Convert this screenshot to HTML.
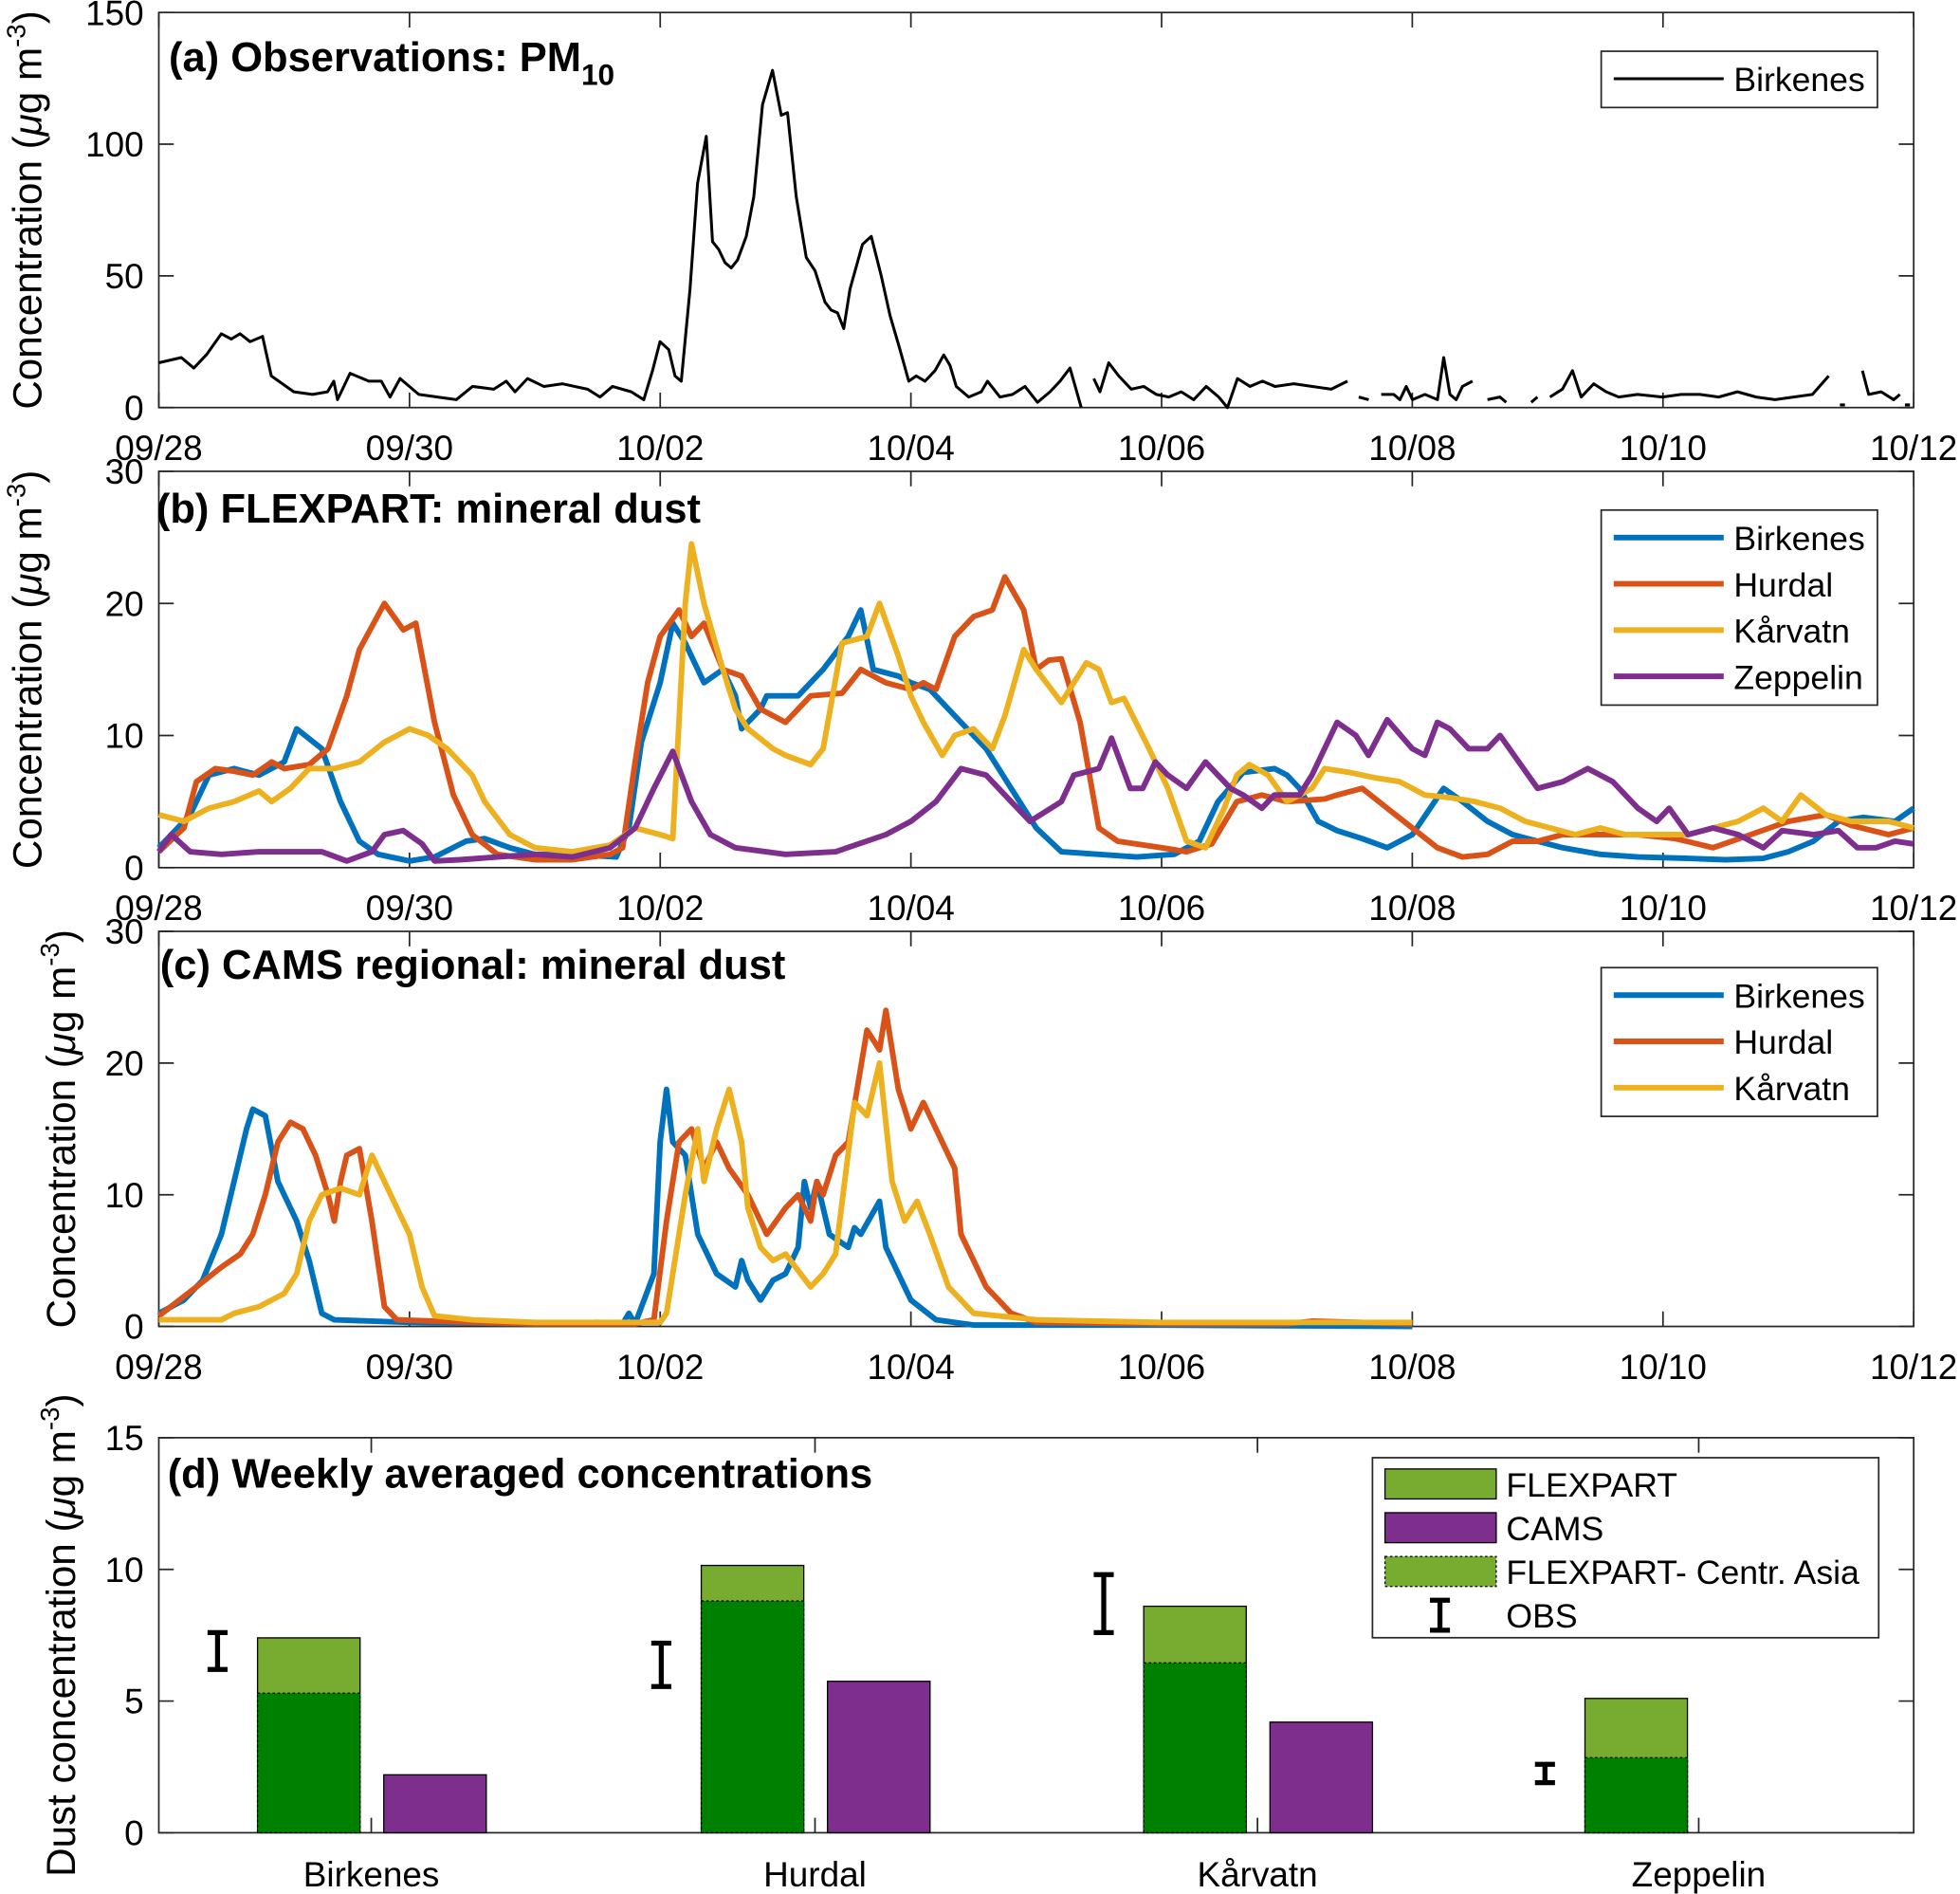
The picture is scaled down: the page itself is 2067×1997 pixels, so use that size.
<!DOCTYPE html>
<html><head><meta charset="utf-8">
<style>html,body{margin:0;padding:0;background:#fff}svg{display:block}text{font-family:"Liberation Sans",sans-serif;fill:#000}</style>
</head><body>
<svg id="chart" width="2067" height="1997" viewBox="0 0 1568 1515" xmlns="http://www.w3.org/2000/svg"></svg>
<script>
// ---------- data ----------
const dayTicks=['09/28','09/30','10/02','10/04','10/06','10/08','10/10','10/12'];
// PM10 observations: pixel-day positions and values with null gaps
const pmPx=[127,145,155,165,177,185,192,200,210,217,235,250,262,267,270,280,295,305,312,320,335,350,365,378,395,405,412,422,435,450,470,480,490,505,515,522,528,535,540,545,552,558,565,570,575,580,585,590,597,603,610,618,625,630,637,645,652,660,665,670,675,680,690,697,705,712,720,727,733,740,748,755,760,765,775,785,790,800,810,820,830,840,848,856,865,null,875,880,887,895,905,915,925,935,945,955,965,975,982,990,1000,1010,1020,1035,1050,1065,1078,null,1087,1095,null,1105,1115,1120,1125,1130,1140,1150,1155,1160,1165,1170,1178,null,1190,1200,1205,null,1225,1230,null,1240,1250,1258,1265,1275,1285,1295,1310,1330,1345,1360,1375,1390,1405,1420,1435,1450,1463,null,1472,1476,null,1490,1495,1505,1515,1520,null,1524,1528];
const pmVals=[17,19,15,20,28,26,28,25,27,12,6,5,6,10,3,13,10,10,4,11,5,4,3,8,7,10,6,11,8,9,7,4,8,6,3,14,25,22,12,10,45,85,103,63,60,55,53,56,65,80,115,128,111,112,80,57,52,40,37,36,30,45,62,65,50,35,22,10,12,10,14,20,16,8,4,6,10,4,5,8,2,6,10,15,0,null,11,6,17,12,7,8,5,4,6,3,8,4,0,11,8,10,8,9,8,7,10,null,4,3,null,5,5,3,8,3,5,3,19,5,3,8,10,null,3,4,2,null,2,4,null,4,7,14,4,9,6,4,5,4,5,5,4,6,4,3,4,5,12,null,1,1,null,14,5,6,3,5,null,1,1];
const fbBirT=[0,.25,.4,.6,.8,1,1.1,1.3,1.45,1.6,1.75,2,2.2,2.45,2.6,2.8,3,3.3,3.65,3.75,3.85,4,4.1,4.2,4.35,4.5,4.6,4.65,4.8,4.85,5.1,5.3,5.5,5.6,5.7,5.9,6,6.15,6.4,6.6,6.8,7,7.2,7.5,7.8,8.1,8.3,8.45,8.65,8.9,9,9.1,9.25,9.4,9.6,9.8,10,10.25,10.4,10.6,10.8,11,11.2,11.5,11.8,12.2,12.5,12.8,13,13.2,13.4,13.6,13.85,14];
const fbBirV=[1.5,4,7,7.5,7,8,10.5,9,5,2,1,.5,.8,2,2.2,1.5,1,1,.8,3,9.5,14,18.5,17,14,15,13,10.5,12,13,13,15,17.5,19.5,15,14.5,14,13.5,11,9,6,3,1.2,1,.8,1,2,5,7.2,7.5,7,6,3.5,2.8,2.2,1.5,2.5,6,5,3.5,2.5,2,1.5,1,.8,.7,.6,.7,1.2,2,3.5,3.8,3.5,4.5];
const fbHurT=[0,.2,.3,.45,.6,.75,.9,1,1.2,1.35,1.5,1.6,1.8,1.95,2.05,2.2,2.35,2.5,2.7,3,3.3,3.6,3.7,3.8,3.9,4,4.15,4.25,4.35,4.5,4.65,4.8,5,5.2,5.45,5.6,5.8,6,6.1,6.2,6.35,6.5,6.65,6.75,6.9,7,7.1,7.2,7.35,7.5,7.65,8,8.2,8.4,8.6,8.8,9,9.3,9.4,9.6,9.8,10,10.2,10.4,10.6,10.8,11,11.2,11.5,11.8,12.1,12.4,12.7,13,13.3,13.5,13.8,14];
const fbHurV=[1.2,3,6.5,7.5,7.3,7,8,7.5,7.8,9,13,16.5,20,18,18.5,11,5.5,2.5,1,.6,.6,1,1.5,8,14,17.5,19.5,17.5,18.5,15,14.5,12,11,13,13.2,15,14,13.5,14,13.5,17.5,19,19.5,22,19.5,15,15.7,15.8,11,3,2,1.5,1.2,1.8,5,5.5,5,5.2,5.5,6,4.5,3,1.5,.8,1,2,2,2.5,2.5,2.5,2.2,1.5,2.5,3.5,4,3.2,2.5,3];
const fbKarT=[0,.2,.4,.6,.8,.9,1.05,1.2,1.4,1.6,1.8,2,2.15,2.3,2.5,2.6,2.8,3,3.3,3.6,3.8,4,4.1,4.2,4.25,4.35,4.5,4.6,4.7,4.9,5,5.2,5.3,5.45,5.65,5.75,5.9,6,6.1,6.25,6.35,6.5,6.65,6.75,6.9,7,7.2,7.4,7.5,7.6,7.7,7.9,8.05,8.2,8.35,8.5,8.6,8.7,8.85,9,9.2,9.3,9.5,9.7,9.9,10.1,10.3,10.5,10.7,10.9,11.1,11.3,11.5,11.7,12,12.2,12.4,12.6,12.8,12.95,13.1,13.3,13.5,13.8,14];
const fbKarV=[4,3.5,4.5,5,5.8,5,6,7.5,7.5,8,9.5,10.5,10,9,7,5,2.5,1.5,1.2,1.7,3,2.5,2.2,20,24.5,20,15,12,10.5,9,8.5,7.8,9,17,17.5,20,16,13,11,8.5,10,10.5,9,11.5,16.5,15,12.5,15.5,15,12.5,12.8,9,6,2,1.5,4.5,7,7.8,7,5,6,7.5,7.2,6.8,6.5,5.5,5.3,5,4.5,3.5,3,2.5,3,2.5,2.5,2.5,3,3.5,4.5,3.5,5.5,4,3.5,3.5,3];
const fbZepT=[0,.1,.25,.5,.8,1,1.3,1.5,1.7,1.8,1.95,2.1,2.2,2.4,2.7,3,3.3,3.6,3.8,3.95,4.1,4.25,4.4,4.6,5,5.4,5.8,6,6.2,6.4,6.6,6.8,6.95,7.2,7.3,7.5,7.6,7.75,7.85,7.95,8.05,8.2,8.35,8.55,8.65,8.8,8.9,9.1,9.2,9.4,9.55,9.65,9.8,10,10.1,10.2,10.3,10.45,10.6,10.7,10.85,11,11.2,11.4,11.6,11.8,11.95,12.05,12.2,12.4,12.6,12.8,12.95,13.2,13.4,13.55,13.7,13.85,14];
const fbZepV=[1.2,2.5,1.2,1,1.2,1.2,1.2,.5,1.2,2.5,2.8,1.8,.5,.6,.8,1,.8,1.5,3,6,8.8,5,2.5,1.5,1,1.2,2.5,3.5,5,7.5,7,5,3.5,5,7,7.5,9.8,6,6,8,7,6,8,6,5.5,4.5,5.5,5.5,7,11,10,8.5,11.2,9,8.5,11,10.5,9,9,10,8,6,6.5,7.5,6.5,4.5,3.5,4.5,2.5,3,2.5,1.5,2.8,2.5,2.8,1.5,1.5,2,1.8];
const fcBirT=[0,.2,.35,.5,.6,.7,.75,.85,.95,1,1.1,1.2,1.3,1.4,2,3,3.5,3.7,3.75,3.8,3.95,4,4.05,4.1,4.2,4.3,4.45,4.6,4.65,4.7,4.8,4.9,5,5.1,5.15,5.2,5.25,5.35,5.5,5.55,5.6,5.75,5.8,5.9,6,6.2,6.5,8,10];
const fcBirV=[1,2,3.5,7,11,15,16.5,16,11,10,8,5,1,.5,.3,.2,.3,.2,1,.2,4,14,18,14,13,7,4,3,5,3.5,2,3.5,4,6,11,9,11,7,6,7.5,7,9.5,6,4,2,.5,.1,.1,0];
const fcHurT=[0,.3,.5,.65,.75,.85,.95,1.05,1.15,1.25,1.35,1.4,1.45,1.5,1.6,1.7,1.8,1.9,2.5,3,3.8,3.95,4.05,4.15,4.25,4.35,4.45,4.55,4.7,4.85,5,5.1,5.2,5.25,5.3,5.4,5.5,5.65,5.75,5.8,5.9,6,6.1,6.2,6.35,6.4,6.5,6.6,6.8,7,8,9,9.2,10];
const fcHurV=[.8,3,4.5,5.5,7,10,14,15.5,15,13,10,8,11,13,13.5,8,1.5,.5,.3,.2,.2,.5,8,14,15,12,14,12,10,7,9,10,8,11,10,13,14,22.5,21,24,18,15,17,15,12,7,5,3,1,.3,.2,.2,.4,.2];
const fcKarT=[0,.5,.6,.8,1,1.1,1.2,1.3,1.45,1.6,1.7,1.8,1.9,2,2.1,2.2,2.5,3,4,4.05,4.1,4.2,4.3,4.35,4.45,4.55,4.65,4.7,4.8,4.9,5,5.2,5.3,5.4,5.55,5.65,5.75,5.85,5.95,6.05,6.15,6.3,6.5,7,7.5,8,10];
const fcKarV=[.5,.5,1,1.5,2.5,4,8,10,10.5,10,13,11,9,7,3,.8,.5,.3,.3,1,4,10,15,11,15,18,14,9,6,5,5.5,3,4,5.5,17,16,20,11,8,9.5,7,3,1,.5,.4,.3,.3];
const stations=['Birkenes','Hurdal','Kårvatn','Zeppelin'];
const flexTotal=[7.4,10.15,8.6,5.1];
const flexAsia=[5.3,8.8,6.45,2.85];
const camsVals=[2.2,5.75,4.2,0];
const obsLow=[6.2,5.55,7.6,1.9];
const obsHigh=[7.6,7.2,9.8,2.6];

// ---------- drawing ----------
const NS='http://www.w3.org/2000/svg';
const svg=document.getElementById('chart');
function mk(tag,attrs,parent,txt){const e=document.createElementNS(NS,tag);for(const k in attrs)e.setAttribute(k,attrs[k]);if(txt!==undefined)e.textContent=txt;(parent||svg).appendChild(e);return e;}
const X0=127,X1=1531;
const xs=d=>X0+(X1-X0)*d/14;
const COL={b:'#0072BD',o:'#D95319',y:'#EDB120',p:'#7E2F8E'};
const TF=28, LF=27, HF=33, AF=32;

function axes(name,top,bot,ymax,ystep,ylabel,labelX,xlabels){
  const g=mk('g',{});
  
  
  const ys=v=>bot-(bot-top)*v/ymax;
  mk('rect',{x:X0,y:top,width:X1-X0,height:bot-top,fill:'#fff',stroke:'#262626','stroke-width':1.3},g);
  for(let v=0;v<=ymax+1e-9;v+=ystep){
    const y=ys(v);
    mk('line',{x1:X0,x2:X0+12,y1:y,y2:y,stroke:'#262626','stroke-width':1.3},g);
    mk('line',{x1:X1,x2:X1-12,y1:y,y2:y,stroke:'#262626','stroke-width':1.3},g);
    const t=mk('text',{x:X0-12,y:y+10,'text-anchor':'end','font-size':TF},g,String(v));
    
    
  }
  if(xlabels){
    dayTicks.forEach((lab,i)=>{const x=xs(i*2);
      mk('line',{x1:x,x2:x,y1:bot,y2:bot-12,stroke:'#262626','stroke-width':1.3},g);
      mk('line',{x1:x,x2:x,y1:top,y2:top+12,stroke:'#262626','stroke-width':1.3},g);
      const t=mk('text',{x:x,y:bot+42,'text-anchor':'middle','font-size':TF},g,lab);
      
      
    });
  }
  const yl=mk('text',{transform:`translate(${labelX},${(top+bot)/2}) rotate(-90)`,'text-anchor':'middle','font-size':AF},g);
  
  
  yl.innerHTML=ylabel;
  return {g,ys};
}
const concLab='Concentration (<tspan font-style="italic">μ</tspan>g m<tspan dy="-13" font-size="21">-3</tspan><tspan dy="13">)</tspan>';
const dustLab='Dust concentration (<tspan font-style="italic">μ</tspan>g m<tspan dy="-13" font-size="21">-3</tspan><tspan dy="13">)</tspan>';

function line(g,ys,T,V,color,w,name){
  let d='',pen=false;
  for(let i=0;i<T.length;i++){
    if(T[i]===null||V[i]===null){pen=false;continue;}
    d+=(pen?'L':'M')+xs(T[i]).toFixed(1)+','+ys(V[i]).toFixed(1);pen=true;
  }
  const p=mk('path',{d,fill:'none',stroke:color,'stroke-width':w,'stroke-linejoin':'round'},g);
  
  
}
function legend(g,x,y,w,items,lw){
  const h=items.length*37+8;
  const lg=mk('g',{},g);
  
  
  mk('rect',{x,y,width:w,height:h,fill:'#fff',stroke:'#262626','stroke-width':1.3},lg);
  items.forEach((it,i)=>{const cy=y+22+i*37;
    mk('line',{x1:x+10,x2:x+98,y1:cy,y2:cy,stroke:it[1],'stroke-width':lw},lg);
    const t=mk('text',{x:x+106,y:cy+10,'font-size':LF},lg,it[0]);
    
    
  });
}

// Panel a
{const pmT=pmPx.map(p=>p===null?null:(p-X0)/(X1-X0)*14);
 const {g,ys}=axes('panel-a-observations',10,326,150,50,concLab,33,true);
 line(g,ys,pmT,pmVals,'#000',2.3,'pm10-birkenes-line');
 legend(g,1281,41,221,[['Birkenes','#000']],2.3);
 const t=mk('text',{x:135,y:57,'font-size':HF,'font-weight':'bold'},g);
 
 t.innerHTML='(a) Observations: PM<tspan dy="11" font-size="24">10</tspan>';}
// Panel b
{const {g,ys}=axes('panel-b-flexpart',377,694,30,10,concLab,33,true);
 line(g,ys,fbBirT,fbBirV,COL.b,4.5,'flexpart-birkenes-line');
 line(g,ys,fbHurT,fbHurV,COL.o,4.5,'flexpart-hurdal-line');
 line(g,ys,fbKarT,fbKarV,COL.y,4.5,'flexpart-karvatn-line');
 line(g,ys,fbZepT,fbZepV,COL.p,4.5,'flexpart-zeppelin-line');
 legend(g,1281,408,221,[['Birkenes',COL.b],['Hurdal',COL.o],['Kårvatn',COL.y],['Zeppelin',COL.p]],4.5);
 const t=mk('text',{x:125,y:418,'font-size':HF,'font-weight':'bold'},g,'(b) FLEXPART: mineral dust');
 }
// Panel c
{const {g,ys}=axes('panel-c-cams',745,1061,30,10,concLab,60,true);
 line(g,ys,fcBirT,fcBirV,COL.b,4.5,'cams-birkenes-line');
 line(g,ys,fcHurT,fcHurV,COL.o,4.5,'cams-hurdal-line');
 line(g,ys,fcKarT,fcKarV,COL.y,4.5,'cams-karvatn-line');
 legend(g,1281,774,221,[['Birkenes',COL.b],['Hurdal',COL.o],['Kårvatn',COL.y]],4.5);
 const t=mk('text',{x:128,y:783,'font-size':HF,'font-weight':'bold'},g,'(c) CAMS regional: mineral dust');
 }
// Panel d
{const top=1150,bot=1466;
 const {g,ys}=axes('panel-d-weekly',top,bot,15,5,dustLab,60,false);
 const cx=[297,652,1006,1359];
 stations.forEach((s,i)=>{
   const c=cx[i];
   mk('line',{x1:c,x2:c,y1:bot,y2:bot-12,stroke:'#262626','stroke-width':1.3},g);
   mk('line',{x1:c,x2:c,y1:top,y2:top+12,stroke:'#262626','stroke-width':1.3},g);
   const t=mk('text',{x:c,y:bot+43,'text-anchor':'middle','font-size':TF},g,s);
   
   const fx=c-91;
   const b1=mk('rect',{x:fx,y:ys(flexTotal[i]),width:82,height:ys(0)-ys(flexTotal[i]),fill:'#77AC30',stroke:'#000','stroke-width':1},g);
   
   const b2=mk('rect',{x:fx,y:ys(flexAsia[i]),width:82,height:ys(0)-ys(flexAsia[i]),fill:'#008000',stroke:'#000','stroke-width':1,'stroke-dasharray':'2,2'},g);
   
   if(camsVals[i]>0){const b3=mk('rect',{x:c+10,y:ys(camsVals[i]),width:82,height:ys(0)-ys(camsVals[i]),fill:'#7E2F8E',stroke:'#000','stroke-width':1},g);
   }
   const ox=c-123;
   const eb=mk('path',{d:`M${ox-8},${ys(obsHigh[i])}H${ox+8}M${ox},${ys(obsHigh[i])}V${ys(obsLow[i])}M${ox-8},${ys(obsLow[i])}H${ox+8}`,stroke:'#000','stroke-width':4,fill:'none'},g);
   
 });
 const lg=mk('g',{},g);
 
 mk('rect',{x:1098,y:1166,width:405,height:144,fill:'#fff',stroke:'#262626','stroke-width':1.3},lg);
 const items=[['FLEXPART','#77AC30'],['CAMS','#7E2F8E'],['FLEXPART- Centr. Asia','#77AC30'],['OBS',null]];
 items.forEach((it,i)=>{const cy=1187+i*35;
   if(it[1]) mk('rect',{x:1108,y:cy-12,width:89,height:24,fill:it[1],stroke:'#000','stroke-width':1,'stroke-dasharray':i==2?'2,2':'none'},lg);
   else mk('path',{d:`M1144,${cy-12}H1160M1152,${cy-12}V${cy+12}M1144,${cy+12}H1160`,stroke:'#000','stroke-width':4,fill:'none'},lg);
   const t=mk('text',{x:1205,y:cy+10,'font-size':LF},lg,it[0]);
   
 });
 const t=mk('text',{x:134,y:1190,'font-size':HF,'font-weight':'bold'},g,'(d) Weekly averaged concentrations');
 }
</script>
</body></html>
